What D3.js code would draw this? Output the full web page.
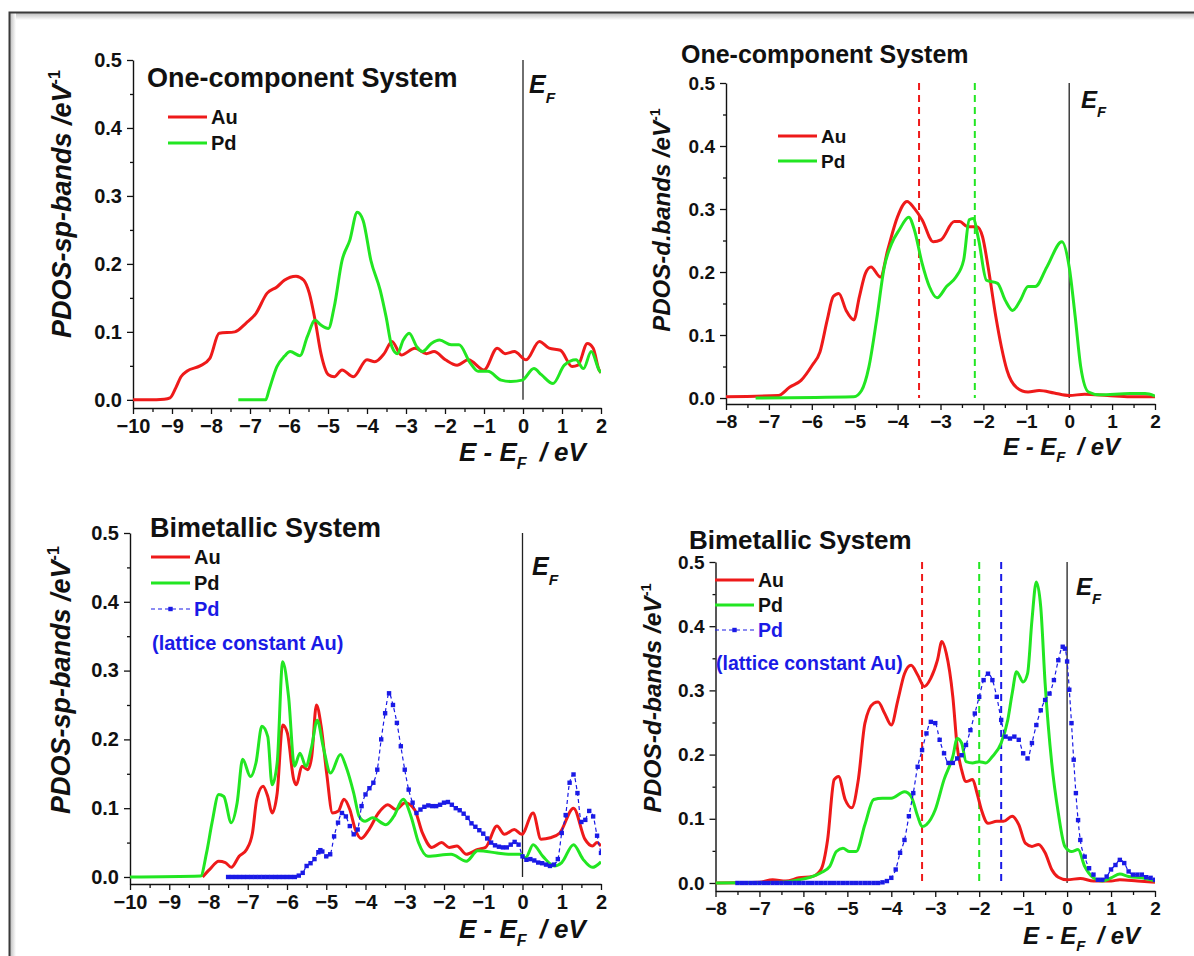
<!DOCTYPE html>
<html><head><meta charset="utf-8">
<script src="https://cdn.jsdelivr.net/npm/d3@7"></script>
<style>body{margin:0;background:#fff}svg{display:block}</style>
</head><body>
<svg id="c" width="1194" height="956"></svg>
<script>
// ---------------- DATA ----------------
const xTicksWide = [-10,-9,-8,-7,-6,-5,-4,-3,-2,-1,0,1,2];
const xTicksNarrow = [-8,-7,-6,-5,-4,-3,-2,-1,0,1,2];
const yTicks = [0.0,0.1,0.2,0.3,0.4,0.5];

// Panel 1: one-component, sp-bands
const sp1_Au = [[-10,0],[-9.6,0],[-9.2,0.001],[-9.05,0.003],[-8.9,0.018],[-8.77,0.034],[-8.62,0.042],[-8.28,0.05],[-8.03,0.061],[-7.79,0.098],[-7.39,0.100],[-7.1,0.113],[-6.85,0.127],[-6.56,0.157],[-6.31,0.166],[-6.12,0.176],[-5.82,0.182],[-5.62,0.176],[-5.48,0.157],[-5.33,0.117],[-5.18,0.068],[-4.99,0.037],[-4.84,0.034],[-4.64,0.044],[-4.35,0.034],[-4.0,0.059],[-3.8,0.056],[-3.56,0.068],[-3.36,0.086],[-3.12,0.066],[-2.77,0.076],[-2.48,0.068],[-2.28,0.071],[-1.99,0.059],[-1.69,0.051],[-1.4,0.059],[-1.0,0.044],[-0.66,0.076],[-0.46,0.068],[-0.22,0.071],[0.08,0.059],[0.42,0.086],[0.67,0.076],[0.96,0.073],[1.26,0.049],[1.41,0.051],[1.65,0.083],[1.8,0.076],[1.95,0.044],[2.0,0.04]];
const sp1_Pd = [[-7.3,0],[-6.6,0],[-6.51,0.015],[-6.31,0.049],[-6.12,0.064],[-5.97,0.071],[-5.72,0.065],[-5.53,0.093],[-5.33,0.117],[-5.18,0.11],[-4.99,0.105],[-4.84,0.137],[-4.64,0.205],[-4.44,0.235],[-4.25,0.276],[-4.1,0.264],[-3.9,0.205],[-3.66,0.161],[-3.51,0.122],[-3.36,0.078],[-3.22,0.068],[-3.07,0.088],[-2.92,0.098],[-2.72,0.078],[-2.58,0.071],[-2.35,0.083],[-2.14,0.088],[-1.84,0.081],[-1.64,0.081],[-1.35,0.054],[-1.15,0.042],[-0.9,0.042],[-0.56,0.029],[-0.31,0.027],[-0.02,0.029],[0.28,0.046],[0.47,0.037],[0.77,0.024],[1.06,0.051],[1.36,0.059],[1.55,0.046],[1.75,0.071],[1.95,0.044],[2.0,0.04]];

// Panel 2: one-component, d-bands
const d1_Au = [[-8,0.002],[-6.78,0.004],[-6.52,0.017],[-6.25,0.028],[-5.99,0.052],[-5.81,0.073],[-5.64,0.124],[-5.5,0.161],[-5.37,0.166],[-5.2,0.139],[-5.02,0.124],[-4.89,0.161],[-4.75,0.198],[-4.62,0.208],[-4.4,0.192],[-4.23,0.235],[-4.0,0.288],[-3.78,0.312],[-3.61,0.301],[-3.43,0.283],[-3.17,0.248],[-2.99,0.251],[-2.68,0.28],[-2.55,0.28],[-2.37,0.272],[-2.15,0.272],[-2.02,0.256],[-1.89,0.208],[-1.71,0.129],[-1.58,0.081],[-1.45,0.044],[-1.23,0.017],[-0.96,0.0095],[-0.7,0.012],[-0.35,0.008],[0.0,0.004],[0.36,0.006],[0.89,0.004],[1.42,0.002],[2.0,0.002]];
const d1_Pd = [[-7.31,0],[-5.02,0.002],[-4.84,0.012],[-4.67,0.049],[-4.49,0.124],[-4.31,0.208],[-4.14,0.245],[-3.96,0.267],[-3.74,0.287],[-3.61,0.267],[-3.43,0.214],[-3.26,0.177],[-3.08,0.159],[-2.86,0.177],[-2.64,0.192],[-2.46,0.219],[-2.33,0.283],[-2.24,0.285],[-2.11,0.251],[-1.93,0.187],[-1.67,0.182],[-1.49,0.155],[-1.32,0.139],[-1.14,0.155],[-0.96,0.177],[-0.79,0.177],[-0.52,0.208],[-0.17,0.248],[0.0,0.208],[0.14,0.129],[0.27,0.049],[0.45,0.0095],[0.71,0.005],[1.42,0.007],[1.77,0.007],[2.0,0.003]];
const dCenters1 = [-3.5,-2.2];   // Au, Pd

// Panel 3: bimetallic, sp-bands
const sp2_Au = [[-8.15,0],[-7.97,0.011],[-7.74,0.023],[-7.57,0.021],[-7.42,0.014],[-7.22,0.03],[-7.03,0.04],[-6.88,0.064],[-6.77,0.113],[-6.61,0.132],[-6.49,0.117],[-6.38,0.093],[-6.25,0.122],[-6.11,0.221],[-5.99,0.209],[-5.83,0.142],[-5.76,0.134],[-5.62,0.161],[-5.47,0.156],[-5.37,0.175],[-5.25,0.25],[-5.13,0.219],[-4.99,0.151],[-4.84,0.093],[-4.69,0.096],[-4.55,0.113],[-4.4,0.098],[-4.26,0.069],[-4.11,0.056],[-3.91,0.069],[-3.67,0.093],[-3.43,0.105],[-3.23,0.098],[-2.99,0.108],[-2.75,0.098],[-2.55,0.064],[-2.31,0.043],[-2.06,0.05],[-1.87,0.043],[-1.67,0.045],[-1.43,0.033],[-1.14,0.04],[-0.94,0.043],[-0.65,0.074],[-0.46,0.062],[-0.21,0.069],[-0.02,0.062],[0.27,0.093],[0.47,0.055],[0.71,0.057],[0.95,0.064],[1.3,0.1],[1.59,0.055],[1.78,0.045],[1.9,0.05],[2.0,0.045]];
const sp2_Pd = [[-10,0],[-8.2,0.0015],[-8.05,0.035],[-7.91,0.079],[-7.74,0.12],[-7.61,0.117],[-7.42,0.079],[-7.27,0.108],[-7.13,0.171],[-6.93,0.146],[-6.79,0.166],[-6.64,0.219],[-6.49,0.204],[-6.38,0.134],[-6.25,0.166],[-6.11,0.313],[-5.96,0.262],[-5.81,0.161],[-5.67,0.18],[-5.52,0.161],[-5.37,0.19],[-5.23,0.228],[-5.08,0.19],[-4.89,0.151],[-4.64,0.178],[-4.5,0.161],[-4.3,0.122],[-4.16,0.088],[-4.01,0.081],[-3.82,0.086],[-3.48,0.076],[-3.28,0.088],[-3.04,0.113],[-2.84,0.088],[-2.65,0.05],[-2.41,0.03],[-1.82,0.033],[-1.43,0.023],[-1.14,0.038],[-0.65,0.035],[-0.36,0.033],[-0.07,0.033],[0.08,0.028],[0.27,0.047],[0.52,0.03],[0.81,0.016],[1.0,0.021],[1.3,0.047],[1.54,0.026],[1.78,0.014],[2.0,0.022]];
const sp2_PdLat = [[-7.5,0],[-7.4,0],[-7.3,0],[-7.2,0],[-7.1,0],[-7.0,0],[-6.9,0],[-6.8,0],[-6.7,0],[-6.6,0],[-6.5,0],[-6.4,0],[-6.3,0],[-6.2,0],[-6.1,0],[-6.0,0],[-5.9,0],[-5.8,0],[-5.7,0.002],[-5.6,0.006],[-5.5,0.016],[-5.4,0.02],[-5.3,0.026],[-5.2,0.036],[-5.15,0.039],[-5.1,0.037],[-5.0,0.03],[-4.9,0.033],[-4.8,0.059],[-4.7,0.079],[-4.6,0.093],[-4.5,0.088],[-4.4,0.074],[-4.3,0.062],[-4.2,0.069],[-4.1,0.103],[-4.0,0.12],[-3.9,0.129],[-3.8,0.137],[-3.7,0.156],[-3.6,0.2],[-3.5,0.238],[-3.4,0.267],[-3.3,0.25],[-3.2,0.224],[-3.1,0.19],[-3.0,0.156],[-2.9,0.127],[-2.8,0.108],[-2.7,0.093],[-2.6,0.098],[-2.5,0.102],[-2.4,0.104],[-2.3,0.103],[-2.2,0.103],[-2.1,0.105],[-2.0,0.108],[-1.9,0.109],[-1.8,0.105],[-1.7,0.1],[-1.6,0.097],[-1.5,0.092],[-1.4,0.086],[-1.3,0.078],[-1.2,0.073],[-1.1,0.068],[-1.0,0.063],[-0.9,0.056],[-0.8,0.05],[-0.7,0.046],[-0.6,0.044],[-0.5,0.043],[-0.4,0.043],[-0.3,0.047],[-0.2,0.051],[-0.1,0.047],[0.0,0.03],[0.1,0.025],[0.2,0.026],[0.3,0.024],[0.4,0.021],[0.5,0.02],[0.6,0.018],[0.7,0.016],[0.8,0.018],[0.9,0.026],[1.0,0.064],[1.1,0.09],[1.2,0.137],[1.3,0.149],[1.4,0.122],[1.5,0.08],[1.6,0.083],[1.7,0.096],[1.8,0.088],[1.9,0.06],[2.0,0.035]];

// Panel 4: bimetallic, d-bands
const d2_Au = [[-8,0],[-7.0,0.001],[-6.7,0.005],[-6.4,0.003],[-6.1,0.008],[-5.8,0.01],[-5.6,0.021],[-5.45,0.067],[-5.3,0.161],[-5.2,0.166],[-5.05,0.13],[-4.9,0.117],[-4.75,0.161],[-4.6,0.249],[-4.4,0.28],[-4.3,0.282],[-4.15,0.264],[-4.0,0.246],[-3.85,0.285],[-3.7,0.326],[-3.55,0.339],[-3.4,0.324],[-3.25,0.306],[-3.1,0.319],[-2.95,0.347],[-2.85,0.376],[-2.75,0.358],[-2.6,0.29],[-2.5,0.212],[-2.4,0.176],[-2.3,0.158],[-2.15,0.161],[-2.05,0.14],[-1.95,0.114],[-1.8,0.093],[-1.6,0.096],[-1.45,0.096],[-1.25,0.104],[-1.1,0.091],[-0.95,0.062],[-0.8,0.057],[-0.65,0.06],[-0.5,0.047],[-0.35,0.021],[-0.2,0.009],[0.0,0.005],[0.3,0.007],[0.6,0.003],[1.0,0.003],[1.2,0.005],[1.6,0.003],[2.0,0.001]];
const d2_Pd = [[-8,0],[-6.5,0.001],[-6.1,0.005],[-5.8,0.01],[-5.6,0.016],[-5.4,0.026],[-5.25,0.049],[-5.1,0.054],[-4.95,0.049],[-4.8,0.049],[-4.6,0.091],[-4.4,0.13],[-4.2,0.132],[-4.0,0.132],[-3.7,0.142],[-3.55,0.135],[-3.4,0.104],[-3.3,0.088],[-3.2,0.091],[-3.0,0.114],[-2.8,0.161],[-2.6,0.197],[-2.5,0.225],[-2.4,0.218],[-2.3,0.189],[-2.15,0.187],[-2.0,0.189],[-1.85,0.187],[-1.7,0.197],[-1.5,0.218],[-1.35,0.254],[-1.25,0.295],[-1.15,0.329],[-1.0,0.313],[-0.9,0.326],[-0.8,0.409],[-0.7,0.469],[-0.6,0.43],[-0.5,0.311],[-0.35,0.187],[-0.2,0.109],[-0.05,0.057],[0.1,0.049],[0.25,0.052],[0.4,0.026],[0.6,0.008],[0.8,0.003],[1.0,0.008],[1.2,0.014],[1.4,0.01],[1.7,0.008],[2.0,0.003]];
const d2_PdLat = [[-7.5,0],[-7.4,0],[-7.3,0],[-7.2,0],[-7.1,0],[-7.0,0],[-6.9,0],[-6.8,0],[-6.7,0],[-6.6,0],[-6.5,0],[-6.4,0],[-6.3,0],[-6.2,0],[-6.1,0],[-6.0,0],[-5.9,0],[-5.8,0],[-5.7,0],[-5.6,0],[-5.5,0],[-5.4,0],[-5.3,0],[-5.2,0],[-5.1,0],[-5.0,0],[-4.9,0],[-4.8,0],[-4.7,0],[-4.6,0],[-4.5,0],[-4.4,0],[-4.3,0],[-4.2,0.001],[-4.1,0.003],[-4.0,0.008],[-3.9,0.021],[-3.8,0.047],[-3.7,0.067],[-3.6,0.104],[-3.5,0.14],[-3.4,0.181],[-3.3,0.207],[-3.2,0.233],[-3.1,0.251],[-3.0,0.249],[-2.9,0.223],[-2.8,0.202],[-2.7,0.187],[-2.6,0.187],[-2.5,0.194],[-2.4,0.199],[-2.3,0.215],[-2.2,0.238],[-2.1,0.264],[-2.0,0.29],[-1.9,0.316],[-1.8,0.326],[-1.7,0.316],[-1.6,0.29],[-1.5,0.254],[-1.4,0.228],[-1.3,0.225],[-1.2,0.228],[-1.1,0.223],[-1.0,0.202],[-0.9,0.194],[-0.8,0.218],[-0.7,0.246],[-0.6,0.269],[-0.5,0.285],[-0.4,0.295],[-0.3,0.316],[-0.2,0.347],[-0.1,0.368],[-0.05,0.365],[0.0,0.345],[0.05,0.301],[0.1,0.249],[0.15,0.192],[0.2,0.14],[0.25,0.098],[0.3,0.067],[0.4,0.041],[0.5,0.023],[0.6,0.013],[0.7,0.005],[0.8,0.005],[0.9,0.01],[1.0,0.021],[1.1,0.028],[1.2,0.036],[1.3,0.031],[1.4,0.018],[1.5,0.013],[1.6,0.013],[1.7,0.013],[1.8,0.009],[1.9,0.008],[2.0,0.005]];
const dCenters2 = [-3.3,-2.0,-1.5];   // Au, Pd, Pd(lattice Au)

// ---------------- STYLE / LAYOUT ----------------
const FONT = "'Liberation Sans', Arial, Helvetica, sans-serif";
const RED = "#ee1a1a", GREEN = "#22e622", BLUE = "#1a1ae6";
const svg = d3.select("#c");

// figure frame
const defs = svg.append("defs");
const gTop = defs.append("linearGradient").attr("id","shT").attr("x1",0).attr("x2",0).attr("y1",0).attr("y2",1);
gTop.append("stop").attr("offset",0).attr("stop-color","#bdbdbd");
gTop.append("stop").attr("offset",1).attr("stop-color","#ffffff");
const gLeft = defs.append("linearGradient").attr("id","shL").attr("x1",0).attr("x2",1).attr("y1",0).attr("y2",0);
gLeft.append("stop").attr("offset",0).attr("stop-color","#bdbdbd");
gLeft.append("stop").attr("offset",1).attr("stop-color","#ffffff");
svg.append("rect").attr("x",10).attr("y",13).attr("width",1184).attr("height",7).attr("fill","url(#shT)");
svg.append("rect").attr("x",10).attr("y",13).attr("width",6).attr("height",943).attr("fill","url(#shL)");
svg.append("path").attr("d","M9.5,956 L9.5,12.5 L1194,12.5").attr("fill","none").attr("stroke","#3a3a3a").attr("stroke-width",2);

const panels = [
  { left:133, right:601, top:60, bottom:408, ymin:-0.012, xt:xTicksWide, tickFs:20,
    title:"One-component System", titleX:147, titleY:87, titleFs:27,
    ylab:"PDOS-sp-bands /eV", ylabX:71, ylabY:204, ylabFs:27,
    xlabX:459, xlabY:461, xlabFs:26, efX:529, efY:93, efFs:25,
    legX:168, legY:117, legDy:26, legFs:20,
    series:[{d:sp1_Au,c:RED,n:"Au"},{d:sp1_Pd,c:GREEN,n:"Pd"}], centers:[] },
  { left:726, right:1155, top:83, bottom:404, ymin:-0.0095, xt:xTicksNarrow, tickFs:19,
    title:"One-component System", titleX:681, titleY:63, titleFs:25,
    ylab:"PDOS-d.bands /eV", ylabX:670, ylabY:220, ylabFs:24,
    xlabX:1003, xlabY:455, xlabFs:24, efX:1081, efY:108, efFs:24,
    legX:778, legY:136, legDy:25, legFs:19,
    series:[{d:d1_Au,c:RED,n:"Au"},{d:d1_Pd,c:GREEN,n:"Pd"}], centers:[[dCenters1[0],RED],[dCenters1[1],GREEN]] },
  { left:130, right:601, top:533, bottom:884, ymin:-0.0102, xt:xTicksWide, tickFs:20,
    title:"Bimetallic System", titleX:150, titleY:537, titleFs:27,
    ylab:"PDOS-sp-bands /eV", ylabX:70, ylabY:680, ylabFs:27,
    xlabX:459, xlabY:938, xlabFs:26, efX:532, efY:575, efFs:25,
    legX:151, legY:557, legDy:26, legFs:20,
    series:[{d:sp2_Au,c:RED,n:"Au"},{d:sp2_Pd,c:GREEN,n:"Pd"},{d:sp2_PdLat,c:BLUE,n:"Pd",dash:true}], centers:[] },
  { left:715.5, right:1155, top:562, bottom:891, ymin:-0.0125, xt:xTicksNarrow, tickFs:19,
    title:"Bimetallic System", titleX:689, titleY:549, titleFs:26,
    ylab:"PDOS-d-bands /eV", ylabX:661, ylabY:698, ylabFs:24.5,
    xlabX:1023, xlabY:944, xlabFs:24, efX:1076, efY:595, efFs:24,
    legX:715, legY:580, legDy:25, legFs:19.5,
    series:[{d:d2_Au,c:RED,n:"Au"},{d:d2_Pd,c:GREEN,n:"Pd"},{d:d2_PdLat,c:BLUE,n:"Pd",dash:true}],
    centers:[[dCenters2[0],RED],[dCenters2[1],GREEN],[dCenters2[2],BLUE]] }
];

panels.forEach((p,i) => {
  const xt = p.xt;
  const x = d3.scaleLinear().domain([xt[0], xt[xt.length-1]]).range([p.left, p.right]);
  const y = d3.scaleLinear().domain([p.ymin, 0.5]).range([p.bottom, p.top]);
  const g = svg.append("g");

  const minorX = xt.slice(1).map((v,k)=> (v + xt[k])/2);
  const minorY = yTicks.slice(1).map((v,k)=> (v + yTicks[k])/2);

  // axes
  const ax = g.append("g").attr("transform",`translate(0,${p.bottom})`)
    .call(d3.axisBottom(x).tickValues(xt).tickFormat(d3.format("d")).tickSize(6).tickSizeOuter(0).tickPadding(5));
  g.append("g").attr("transform",`translate(0,${p.bottom})`)
    .call(d3.axisBottom(x).tickValues(minorX).tickFormat("").tickSize(4).tickSizeOuter(0))
    .select(".domain").remove();
  const ay = g.append("g").attr("transform",`translate(${p.left},0)`)
    .call(d3.axisLeft(y).tickValues(yTicks).tickFormat(d3.format(".1f")).tickSize(6).tickSizeOuter(0).tickPadding(5));
  g.append("g").attr("transform",`translate(${p.left},0)`)
    .call(d3.axisLeft(y).tickValues(minorY).tickFormat("").tickSize(3).tickSizeOuter(0))
    .select(".domain").remove();
  g.selectAll(".domain").attr("stroke","#111").attr("stroke-width",1.4);
  g.selectAll(".tick line").attr("stroke","#111").attr("stroke-width",1.3);
  [ax,ay].forEach(a => a.selectAll("text").attr("font-family",FONT).attr("font-weight","bold")
    .attr("font-size",p.tickFs).attr("fill","#111"));
  ax.selectAll("text").attr("dy","0.71em");

  // E_F line
  g.append("line").attr("x1",x(0)).attr("x2",x(0)).attr("y1",y(0.5)).attr("y2",y(0))
    .attr("stroke","#222").attr("stroke-width",1.3);
  // d-band centers
  p.centers.forEach(([v,c]) => g.append("line").attr("x1",x(v)).attr("x2",x(v))
    .attr("y1",y(0.5)).attr("y2",y(0)).attr("stroke",c).attr("stroke-width",2).attr("stroke-dasharray","7,5"));

  // curves
  const cid = "clip"+i;
  defs.append("clipPath").attr("id",cid).append("rect")
    .attr("x",p.left).attr("y",p.top-5).attr("width",p.right-p.left).attr("height",p.bottom-p.top+5);
  const cg = g.append("g").attr("clip-path",`url(#${cid})`);
  const line = d3.line().x(d=>x(d[0])).y(d=>y(d[1])).curve(d3.curveMonotoneX);
  p.series.forEach(s => {
    if (s.dash) {
      cg.append("path").attr("d",line(s.d)).attr("fill","none").attr("stroke",s.c)
        .attr("stroke-width",1.2).attr("stroke-dasharray","4,3");
      cg.selectAll(null).data(s.d).enter().append("rect")
        .attr("x",d=>x(d[0])-2.2).attr("y",d=>y(d[1])-2.2).attr("width",4.4).attr("height",4.4).attr("fill",s.c);
    } else {
      cg.append("path").attr("d",line(s.d)).attr("fill","none").attr("stroke",s.c)
        .attr("stroke-width",3).attr("stroke-linejoin","round");
    }
  });

  // title
  g.append("text").attr("x",p.titleX).attr("y",p.titleY).text(p.title)
    .attr("font-family",FONT).attr("font-weight","bold").attr("font-size",p.titleFs).attr("fill","#111");

  // E_F label
  const ef = g.append("text").attr("x",p.efX).attr("y",p.efY).attr("font-family",FONT)
    .attr("font-weight","bold").attr("font-style","italic").attr("font-size",p.efFs).attr("fill","#111");
  ef.append("tspan").text("E");
  ef.append("tspan").text("F").attr("font-size",p.efFs*0.62).attr("dy",p.efFs*0.38);

  // x label
  const xl = g.append("text").attr("x",p.xlabX).attr("y",p.xlabY).attr("font-family",FONT)
    .attr("font-weight","bold").attr("font-style","italic").attr("font-size",p.xlabFs).attr("fill","#111");
  xl.append("tspan").text("E - E");
  xl.append("tspan").text("F").attr("font-size",p.xlabFs*0.62).attr("dy",p.xlabFs*0.3);
  xl.append("tspan").text("/ eV").attr("dy",-p.xlabFs*0.3).attr("dx",p.xlabFs*0.5);

  // y label
  const yl = g.append("text").attr("transform",`translate(${p.ylabX},${p.ylabY}) rotate(-90)`)
    .attr("text-anchor","middle").attr("font-family",FONT).attr("font-weight","bold")
    .attr("font-style","italic").attr("font-size",p.ylabFs).attr("fill","#111");
  yl.append("tspan").text(p.ylab);
  yl.append("tspan").text("-1").attr("font-size",p.ylabFs*0.6).attr("dy",-p.ylabFs*0.42).attr("font-style","normal");

  // legend
  p.series.forEach((s,k) => {
    const ly = p.legY + k*p.legDy;
    const x1 = p.legX, x2 = p.legX + 39;
    if (s.dash) {
      g.append("line").attr("x1",x1).attr("x2",x2).attr("y1",ly).attr("y2",ly)
        .attr("stroke",s.c).attr("stroke-width",1.2).attr("stroke-dasharray","4,3");
      g.append("rect").attr("x",(x1+x2)/2-2.2).attr("y",ly-2.2).attr("width",4.4).attr("height",4.4).attr("fill",s.c);
    } else {
      g.append("line").attr("x1",x1).attr("x2",x2).attr("y1",ly).attr("y2",ly)
        .attr("stroke",s.c).attr("stroke-width",3);
    }
    g.append("text").attr("x",x2+4).attr("y",ly+p.legFs*0.36).text(s.n)
      .attr("font-family",FONT).attr("font-weight","bold").attr("font-size",p.legFs)
      .attr("fill", s.dash ? s.c : "#111");
    if (s.dash) {
      g.append("text").attr("x",x1+1).attr("y",ly+p.legFs*0.36+p.legDy+8).text("(lattice constant Au)")
        .attr("font-family",FONT).attr("font-weight","bold").attr("font-size",p.legFs).attr("fill",s.c);
    }
  });
});
</script>
</body></html>
